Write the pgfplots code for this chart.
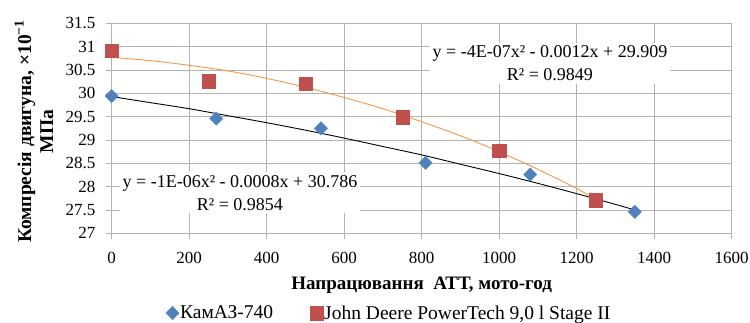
\documentclass[border=0pt]{standalone}
\usepackage{fontspec}
\setmainfont{Liberation Serif}
\usepackage{pgfplots}
\pgfplotsset{compat=1.18}
\definecolor{kblue}{HTML}{4F81BD}
\definecolor{jred}{HTML}{C0504D}
\definecolor{torange}{HTML}{F79646}
\definecolor{gridc}{HTML}{B3B3B3}
\begin{document}
\begin{tikzpicture}
\begin{axis}[
  scale only axis, width=620pt, height=210pt,
  xmin=0, xmax=1600, ymin=27, ymax=31.5,
  xtick={0,200,...,1600}, ytick={27,27.5,...,31.5},
  xtick pos=bottom, ytick pos=left,
  grid=major, major grid style={gridc, line width=0.8pt},
  axis line style={gridc, line width=0.8pt},
  tick style={gridc, line width=0.8pt},
  tick align=outside, major tick length=6pt,
  /pgf/number format/.cd, 1000 sep={}, assume math mode=true,
  /pgfplots/.cd,
  yticklabel style={font=\fontsize{17}{17}\selectfont, inner sep=0pt, anchor=east, xshift=-10pt},
  xticklabel style={font=\fontsize{17}{17}\selectfont, inner sep=0pt, anchor=north, yshift=-13pt},
  ylabel={Компресія двигуна, ×10\textsuperscript{−1}\\МПа},
  ylabel style={align=center, font=\bfseries\fontsize{19.5}{22}\selectfont, at={(axis description cs:-0.1255,0.485)}, anchor=center},
  xlabel={Напрацювання\ \ АТТ, мото-год},
  xlabel style={font=\bfseries\fontsize{19}{19}\selectfont, at={(axis description cs:0.5,-0.246)}, anchor=center},
  legend columns=2,
  legend image code/.code={\draw[#1] plot coordinates {(0pt,0pt)};},
  legend style={draw=none, fill=none, inner sep=0pt, anchor=west, at={(axis description cs:0.0871,-0.380)},
    font=\fontsize{19.5}{20}\selectfont, nodes={inner sep=1pt},
    /tikz/every even column/.append style={column sep=36pt}},
]
% trend lines
\addplot[black, line width=0.9pt, forget plot, smooth] coordinates {
 (0,29.93) (100,29.80) (200,29.67) (300,29.52) (400,29.37) (500,29.21) (600,29.04)
 (700,28.86) (800,28.68) (900,28.48) (1000,28.28) (1100,28.07) (1200,27.85) (1300,27.62) (1350,27.50)};
\addplot[torange, line width=0.9pt, forget plot, smooth] coordinates {
 (0,30.77) (100,30.70) (200,30.60) (300,30.48) (400,30.32) (500,30.13) (600,29.91)
 (700,29.67) (800,29.39) (900,29.09) (1000,28.75) (1100,28.37) (1200,27.96) (1250,27.72)};
% data
\addplot[only marks, mark=square*, mark size=4.7pt, mark options={rotate=45, fill=kblue, draw=kblue}] coordinates {
 (0,29.94) (270,29.46) (540,29.25) (810,28.51) (1080,28.26) (1350,27.46)};
\addlegendentry{КамАЗ-740}
\addplot[only marks, mark=square*, mark size=6.6pt, mark options={fill=jred, draw=jred}] coordinates {
 (0,30.91) (250,30.26) (500,30.21) (750,29.49) (1000,28.77) (1250,27.71)};
\addlegendentry{John Deere PowerTech 9,0 l Stage II}
\node[fill=white, align=center, inner sep=3pt, font=\fontsize{18}{23}\selectfont] at (axis cs:1131,30.64)
 {y = -4E-07x² - 0.0012x + 29.909\\R² = 0.9849};
\node[fill=white, align=center, inner sep=3pt, font=\fontsize{18}{23}\selectfont] at (axis cs:331,27.87)
 {y = -1E-06x² - 0.0008x + 30.786\\R² = 0.9854};
\end{axis}
\pgfresetboundingbox
\path (-111.7pt,-88.7pt) rectangle (638.3pt,233.3pt);
\end{tikzpicture}
\end{document}
